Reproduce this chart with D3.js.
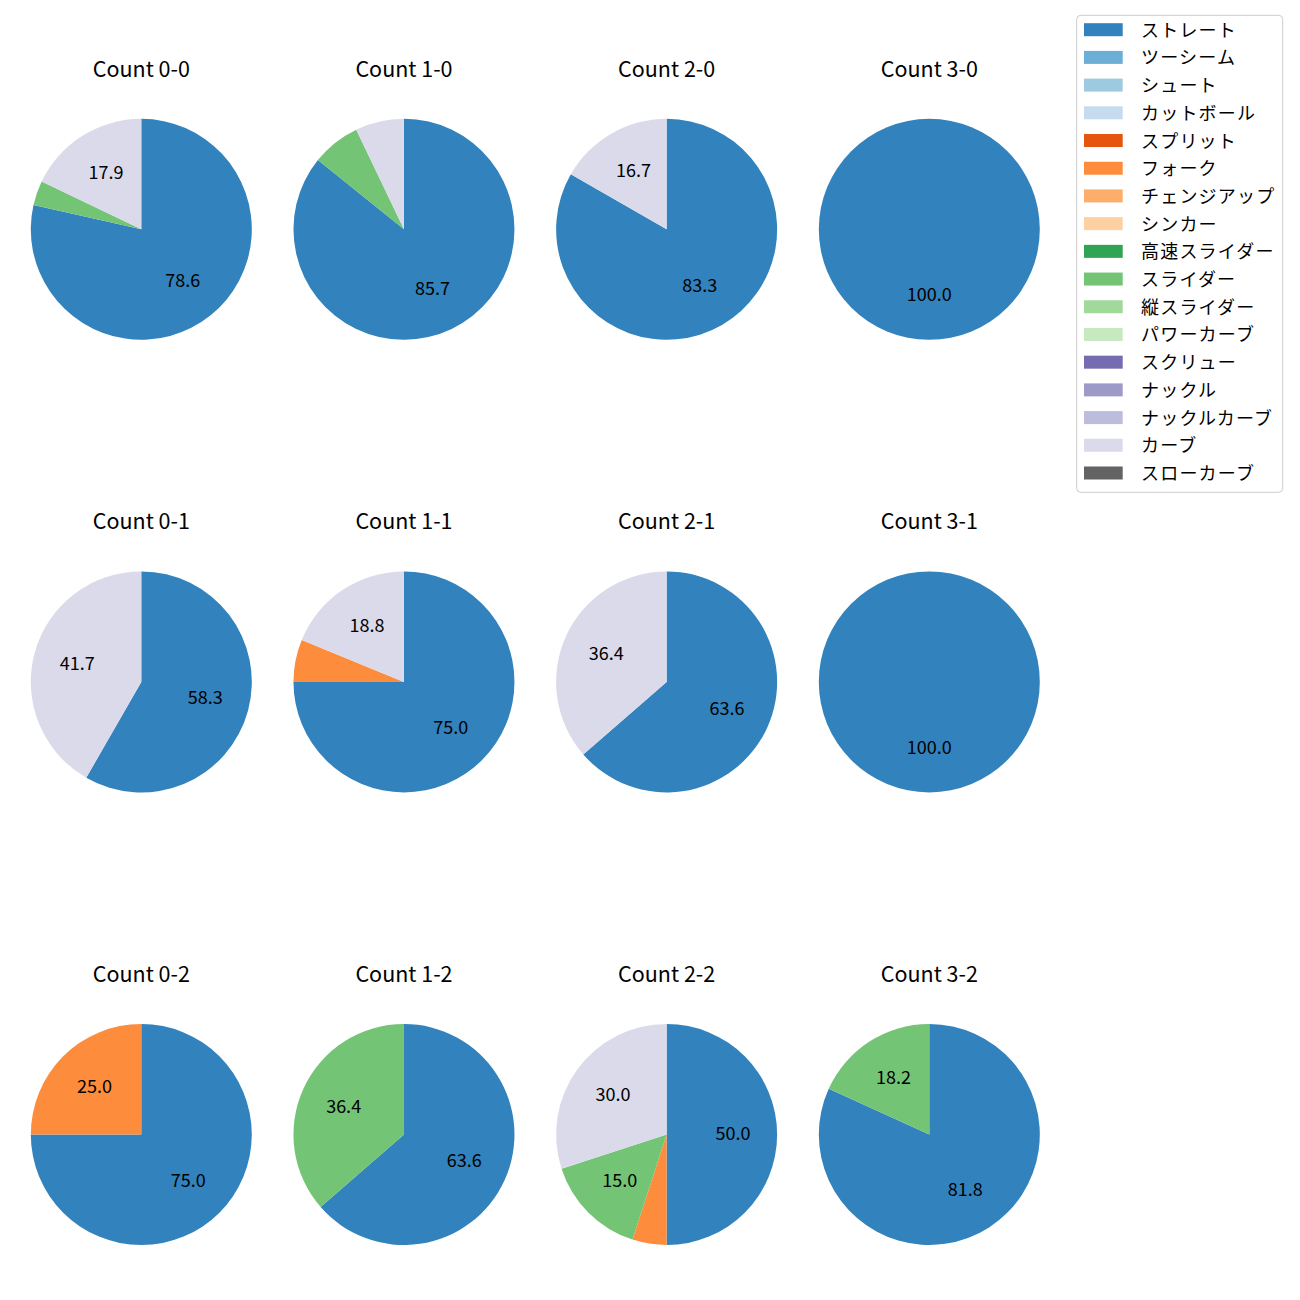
<!DOCTYPE html>
<html><head><meta charset="utf-8">
<script src="https://cdn.jsdelivr.net/npm/d3@7"></script>
<style>body{margin:0;background:#fff;} text{font-family:"Noto Sans CJK JP","Noto Sans",sans-serif;}</style>
</head><body>
<svg id="chart" width="1300" height="1300"></svg>
<script>
const pitchTypes = ["ストレート","ツーシーム","シュート","カットボール","スプリット","フォーク","チェンジアップ","シンカー","高速スライダー","スライダー","縦スライダー","パワーカーブ","スクリュー","ナックル","ナックルカーブ","カーブ","スローカーブ"];
const pitchColors = ["#3182bd","#6baed6","#9ecae1","#c6dbef","#e6550d","#fd8d3c","#fdae6b","#fdd0a2","#31a354","#74c476","#a1d99b","#c7e9c0","#756bb1","#9e9ac8","#bcbddc","#dadaeb","#636363"];
const countTitles = ["Count 0-0","Count 1-0","Count 2-0","Count 3-0","Count 0-1","Count 1-1","Count 2-1","Count 3-1","Count 0-2","Count 1-2","Count 2-2","Count 3-2"];
// percentages per pie, as [pitch type, value]
const count00 = [["ストレート",78.6],["スライダー",3.6],["カーブ",17.9]];
const count10 = [["ストレート",85.7],["スライダー",7.1],["カーブ",7.1]];
const count20 = [["ストレート",83.3],["カーブ",16.7]];
const count30 = [["ストレート",100.0]];
const count01 = [["ストレート",58.3],["カーブ",41.7]];
const count11 = [["ストレート",75.0],["フォーク",6.2],["カーブ",18.8]];
const count21 = [["ストレート",63.6],["カーブ",36.4]];
const count31 = [["ストレート",100.0]];
const count02 = [["ストレート",75.0],["フォーク",25.0]];
const count12 = [["ストレート",63.6],["スライダー",36.4]];
const count22 = [["ストレート",50.0],["フォーク",5.0],["スライダー",15.0],["カーブ",30.0]];
const count32 = [["ストレート",81.8],["スライダー",18.2]];
const pies = [count00,count10,count20,count30,count01,count11,count21,count31,count02,count12,count22,count32];
const labelThreshold = 10;

const svg = d3.select("#chart");
const color = d3.scaleOrdinal().domain(pitchTypes).range(pitchColors);
const colX = d3.scalePoint().domain([0,1,2,3]).range([141.3, 929.3]);
const rowY = d3.scalePoint().domain([0,1,2]).range([229.3, 1134.5]);
const R = 110.5;
const pie = d3.pie().sort(null).value(d => d[1]).startAngle(0).endAngle(2*Math.PI);
const arc = d3.arc().innerRadius(0).outerRadius(R);
const labelArc = d3.arc().innerRadius(R*0.6).outerRadius(R*0.6);

pies.forEach((data, i) => {
  const col = i % 4, row = Math.floor(i / 4);
  const g = svg.append("g").attr("transform", `translate(${colX(col)},${rowY(row)})`);
  const arcs = pie(data);
  g.selectAll("path").data(arcs).join("path")
    .attr("d", arc).attr("fill", d => color(d.data[0]));
  g.selectAll("text.lbl").data(arcs.filter(d => d.data[1] >= labelThreshold)).join("text")
    .attr("class","lbl")
    .attr("transform", d => `translate(${labelArc.centroid(d)})`)
    .attr("text-anchor","middle").attr("dominant-baseline","central")
    .attr("dy", -2.5)
    .attr("font-size", 18).attr("fill","#000")
    .text(d => d.data[1].toFixed(1));
  g.append("text").attr("x", 0).attr("y", -R - 42)
    .attr("text-anchor","middle").attr("font-size", 21.5).attr("fill","#000")
    .attr("dominant-baseline","alphabetic")
    .text(countTitles[i]);
});

// legend
const lg = svg.append("g");
lg.append("rect").attr("x",1076.7).attr("y",15.3).attr("width",206).attr("height",477)
  .attr("rx",4).attr("fill","#fff").attr("fill-opacity",0.8).attr("stroke","#cccccc").attr("stroke-width",1);
const ly = d3.scaleLinear().domain([0,16]).range([29.7, 473]);
pitchTypes.forEach((p, i) => {
  lg.append("rect").attr("x",1084).attr("y",ly(i)-6.5).attr("width",38.7).attr("height",13).attr("fill",color(p));
  lg.append("text").attr("x",1141).attr("y",ly(i)).attr("dy",-1).attr("dominant-baseline","central")
    .attr("font-size",18).attr("letter-spacing",1.2).attr("fill","#000").text(p);
});
</script>
</body></html>
